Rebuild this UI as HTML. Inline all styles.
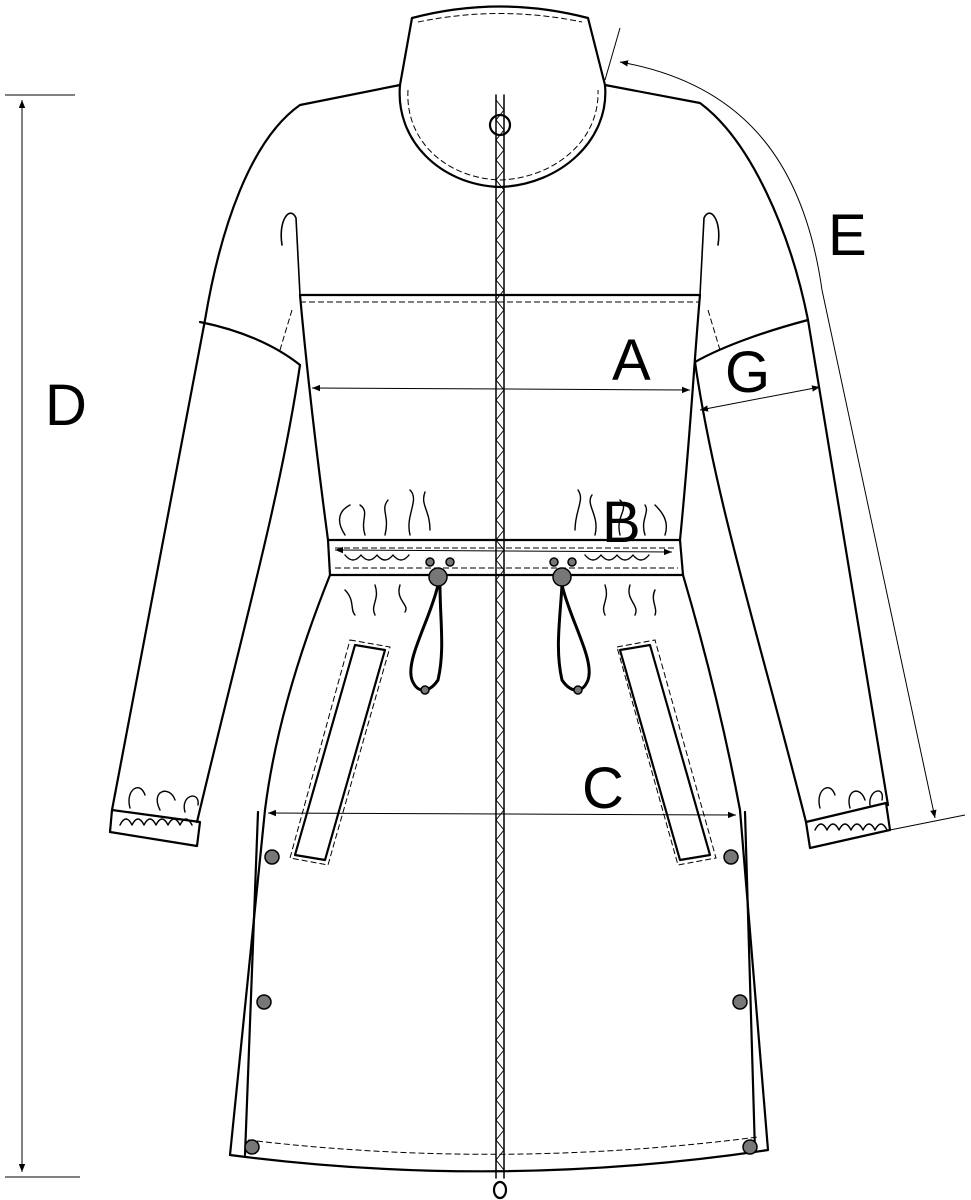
<!DOCTYPE html>
<html><head><meta charset="utf-8"><style>
html,body{margin:0;padding:0;background:#fff;width:971px;height:1200px;overflow:hidden}
svg{display:block}
text{font-family:"Liberation Sans",sans-serif;fill:#000}
</style></head><body>
<svg width="971" height="1200" viewBox="0 0 971 1200" xmlns="http://www.w3.org/2000/svg">
<defs>
<marker id="ar" viewBox="0 0 10 10" refX="10" refY="5" markerWidth="8" markerHeight="8" orient="auto-start-reverse"><path d="M0,1 L10,5 L0,9z" fill="#000"/></marker>
</defs>
<g fill="none" stroke="#000" stroke-width="2.2" stroke-linejoin="round" stroke-linecap="round">
<path d="M400,85 L300,105 C250,140 220,230 205,320 L112,810"/>
<path d="M605,85 L700,103 C750,140 790,230 808,320 L888,805"/>
<path d="M112,810 L200,822 L197,846 L110,832 Z"/>
<path d="M806,822 L886,803 L890,830 L810,848 Z"/>
<path d="M200,322 C240,330 275,345 300,365"/>
<path d="M808,320 C770,330 725,345 695,362"/>
<path d="M300,365 C280,500 240,640 197,822"/>
<path d="M695,362 C715,500 760,640 806,822"/>
<path d="M300,295 L700,295"/>
<path d="M300,295 C305,350 312,420 328,540 L330,575 L683,575 L680,540 C690,440 695,350 700,295"/>
<path d="M328,540 L680,540"/>
<path d="M330,575 C300,650 275,730 265,810 L230,1155 Q500,1190 768,1150 L740,810 C725,730 705,650 683,575"/>
<path d="M258,812 L245,1155"/>
<path d="M745,812 L755,1152"/>
<path d="M400,85 C395,140 440,185 500,187 C560,185 610,140 605,85 L588,18 Q500,-5 412,18 Z"/>
<path d="M282,245 C278,220 290,205 296,218 L300,295" stroke-width="1.6"/>
<path d="M718,245 C722,220 710,205 704,218 L700,295" stroke-width="1.6"/>
<path d="M355,645 L385,650 L325,860 L295,855 Z"/>
<path d="M620,650 L650,645 L710,855 L680,860 Z"/>
<path d="M438,585 C430,620 405,660 412,680 C418,695 430,692 438,680 C445,650 440,620 440,585" stroke-width="3"/>
<path d="M562,585 C560,620 555,650 562,680 C570,692 582,695 588,680 C595,660 570,620 562,585" stroke-width="3"/>
<path d="M496,95 L496,1178 M504,95 L504,1178" stroke-width="1.5"/>
<path d="M496,100 L504,110 L496,120 L504,130 L496,140 L504,150 L496,160 L504,170 L496,180 L504,190 L496,200 L504,210 L496,220 L504,230 L496,240 L504,250 L496,260 L504,270 L496,280 L504,290 L496,300 L504,310 L496,320 L504,330 L496,340 L504,350 L496,360 L504,370 L496,380 L504,390 L496,400 L504,410 L496,420 L504,430 L496,440 L504,450 L496,460 L504,470 L496,480 L504,490 L496,500 L504,510 L496,520 L504,530 L496,540 L504,550 L496,560 L504,570 L496,580 L504,590 L496,600 L504,610 L496,620 L504,630 L496,640 L504,650 L496,660 L504,670 L496,680 L504,690 L496,700 L504,710 L496,720 L504,730 L496,740 L504,750 L496,760 L504,770 L496,780 L504,790 L496,800 L504,810 L496,820 L504,830 L496,840 L504,850 L496,860 L504,870 L496,880 L504,890 L496,900 L504,910 L496,920 L504,930 L496,940 L504,950 L496,960 L504,970 L496,980 L504,990 L496,1000 L504,1010 L496,1020 L504,1030 L496,1040 L504,1050 L496,1060 L504,1070 L496,1080 L504,1090 L496,1100 L504,1110 L496,1120 L504,1130 L496,1140 L504,1150 L496,1160 L504,1170" stroke-width="1"/>
<circle cx="500" cy="125" r="10"/>
<ellipse cx="500" cy="1190" rx="6" ry="8"/>
<path d="M345,535 C335,520 340,510 350,505 M365,535 C360,520 370,512 360,505 M385,535 C390,515 380,510 388,500 M410,535 C405,515 420,500 410,490 M430,530 C430,510 420,505 425,492" stroke-width="1.4"/>
<path d="M575,530 C575,510 585,500 578,490 M595,535 C600,515 585,505 592,495 M620,535 C615,515 630,510 620,500 M645,535 C640,520 650,512 645,505 M665,535 C670,520 660,510 655,505" stroke-width="1.4"/>
<path d="M345,590 C355,600 350,610 355,615 M375,585 C380,600 370,605 375,615 M400,585 C395,600 410,605 405,612 M605,585 C610,600 600,605 605,615 M630,585 C625,600 640,605 635,615 M655,590 C650,600 658,608 655,615" stroke-width="1.4"/>
<path d="M345,555 q8,10 16,0 q8,10 16,0 q8,10 16,0 q8,10 16,0 M585,555 q8,10 16,0 q8,10 16,0 q8,10 16,0 q8,10 16,0" stroke-width="1.4"/>
<path d="M120,825 q6,-12 12,0 q6,-12 12,0 q6,-12 12,0 q6,-12 12,0 q6,-12 12,0 q6,-12 12,0 M815,830 q6,-12 12,0 q6,-12 12,0 q6,-12 12,0 q6,-12 12,0 q6,-12 12,0 q6,-12 12,0" stroke-width="1.4"/>
<path d="M130,808 C125,790 140,780 145,795 M160,810 C150,790 170,785 175,800 M185,812 C180,795 200,790 198,805 M820,808 C815,790 830,780 835,795 M850,808 C845,790 860,785 865,800 M870,805 C868,790 885,785 882,800" stroke-width="1.4"/>
</g>
<g fill="none" stroke="#000" stroke-width="1" stroke-dasharray="6,3">
<path d="M300,302 L700,302"/>
<path d="M335,548 L675,548 M335,568 L678,568"/>
<path d="M248,1140 Q500,1170 758,1137"/>
<path d="M408,90 C405,140 445,178 500,180 C555,178 600,140 598,90"/>
<path d="M418,22 Q500,5 582,22"/>
<path d="M350,640 L390,647 L328,865 L290,858 Z"/>
<path d="M617,647 L655,640 L716,858 L678,865 Z"/>
<path d="M292,310 L280,350 M708,310 L720,350"/>
</g>
<g fill="#777" stroke="#000" stroke-width="1.5">
<circle cx="272" cy="857" r="7"/><circle cx="264" cy="1002" r="7"/><circle cx="252" cy="1147" r="7"/>
<circle cx="731" cy="857" r="7"/><circle cx="740" cy="1002" r="7"/><circle cx="750" cy="1147" r="7"/>
<circle cx="438" cy="577" r="9"/><circle cx="562" cy="577" r="9"/>
<circle cx="430" cy="562" r="4"/><circle cx="450" cy="562" r="4"/><circle cx="554" cy="562" r="4"/><circle cx="572" cy="562" r="4"/>
<circle cx="425" cy="690" r="4"/><circle cx="578" cy="690" r="4"/>
</g>
<g stroke="#000" stroke-width="1" fill="none">
<path d="M5,95 L75,95 M5,1177 L80,1177"/>
<path d="M22,100 L22,1172" marker-start="url(#ar)" marker-end="url(#ar)"/>
<path d="M312,388 L690,390" marker-start="url(#ar)" marker-end="url(#ar)"/>
<path d="M335,550 L672,552" marker-start="url(#ar)" marker-end="url(#ar)"/>
<path d="M268,813 L736,815" marker-start="url(#ar)" marker-end="url(#ar)"/>
<path d="M700,410 L820,387" marker-start="url(#ar)" marker-end="url(#ar)"/>
<path d="M620,62 C750,85 805,170 822,290 L935,818" marker-start="url(#ar)" marker-end="url(#ar)"/>
<path d="M605,80 L620,28"/>
<path d="M890,830 L965,815"/>
</g>
<text x="45" y="425" font-size="58">D</text>
<text x="612" y="380" font-size="58">A</text>
<text x="602" y="542" font-size="58">B</text>
<text x="582" y="808" font-size="58">C</text>
<text x="828" y="255" font-size="58">E</text>
<text x="725" y="392" font-size="58">G</text>
</svg>
</body></html>
